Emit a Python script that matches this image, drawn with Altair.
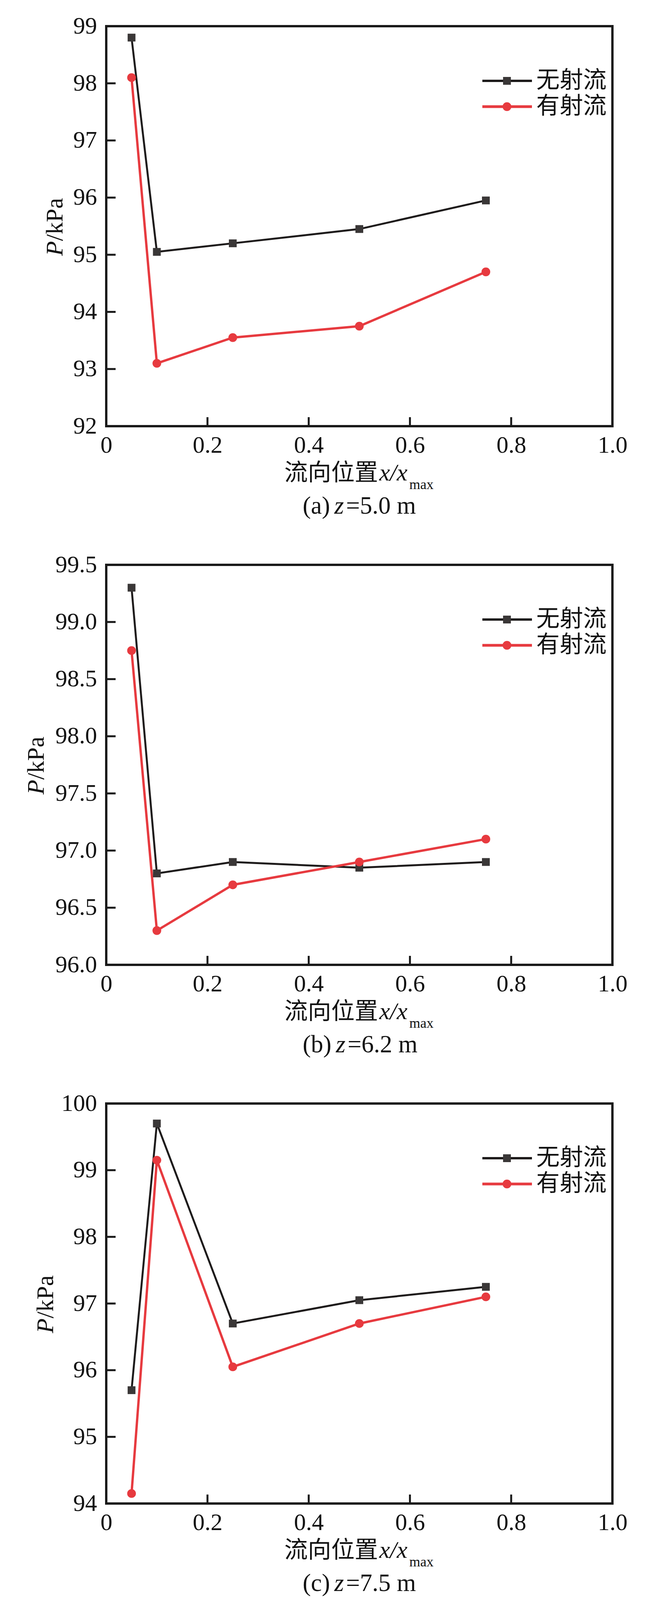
import altair as alt
import pandas as pd

# ---------------- data ----------------
X_POS = [0.05, 0.10, 0.25, 0.50, 0.75]
SERIES = ["无射流", "有射流"]

A_NO = [98.8, 95.05, 95.2, 95.45, 95.95]
A_JET = [98.1, 93.1, 93.55, 93.75, 94.7]
B_NO = [99.3, 96.8, 96.9, 96.85, 96.9]
B_JET = [98.75, 96.3, 96.7, 96.9, 97.1]
C_NO = [95.7, 99.7, 96.7, 97.05, 97.25]
C_JET = [94.15, 99.15, 96.05, 96.7, 97.1]

X_TICKS = [0, 0.2, 0.4, 0.6, 0.8, 1.0]
A_YTICKS = [92, 93, 94, 95, 96, 97, 98, 99]
B_YTICKS = [96.0, 96.5, 97.0, 97.5, 98.0, 98.5, 99.0, 99.5]
C_YTICKS = [94, 95, 96, 97, 98, 99, 100]

CAPTIONS = [("(a)", "=5.0 m"), ("(b)", "=6.2 m"), ("(c)", "=7.5 m")]
X_TITLE_CJK = "流向位置"
X_TITLE_VAR = "x/x"
X_TITLE_SUB = "max"
Y_TITLE_VAR = "P"
Y_TITLE_UNIT = "/kPa"

# ---------------- style ----------------
W, H = 1296, 1024
SPACING = 355
SERIF = "Liberation Serif"
CJK = "Noto Sans CJK SC"
FRAME = "#1a1a1a"
TEXT = "#111111"
BLACK_LINE = "#1e1b1b"
BLACK_MARK = "#3a3737"
RED = "#e73a3f"

one = pd.DataFrame({"k": [0]})


def txt(s, x, y, size, font=SERIF, style="normal", align="left",
        baseline="alphabetic", angle=0):
    return alt.Chart(one).mark_text(
        text=s, align=align, baseline=baseline, font=font, fontSize=size,
        fontStyle=style, color=TEXT, angle=angle
    ).encode(x=alt.value(x), y=alt.value(y))


def panel(no, jet, ydom, yticks, yfmt, cap, ytitle_x, z_x, eq_x, anchor=False):
    df = pd.DataFrame({
        "x": X_POS + X_POS,
        "P": no + jet,
        "series": [SERIES[0]] * len(X_POS) + [SERIES[1]] * len(X_POS),
    })
    base = alt.Chart(df)
    x_scale = alt.Scale(domain=[0, 1], nice=False, zero=False)
    y_scale = alt.Scale(domain=ydom, nice=False, zero=False)
    x_axis = alt.Axis(
        values=X_TICKS, title=None, grid=False, domain=False, ticks=False,
        labelExpr="datum.value == 0 ? '0' : format(datum.value, '.1f')",
        labelFont=SERIF, labelFontSize=61, labelColor=TEXT,
        labelPadding=67, labelBaseline="alphabetic", labelAlign="center",
        labelFlush=False, labelOverlap=False,
    )
    y_axis = alt.Axis(
        values=yticks, format=yfmt, title=None, grid=False, domain=False,
        ticks=False, labelFont=SERIF, labelFontSize=61,
        labelColor=TEXT, labelPadding=24, labelFlush=False,
        labelOverlap=False, labelBaseline="middle", labelAlign="right",
    )
    lines = base.mark_line().encode(
        x=alt.X("x:Q", scale=x_scale, axis=x_axis),
        y=alt.Y("P:Q", scale=y_scale, axis=y_axis),
        stroke=alt.Stroke("series:N",
                          scale=alt.Scale(domain=SERIES, range=[BLACK_LINE, RED]),
                          legend=None),
        strokeWidth=alt.StrokeWidth("series:N",
                                    scale=alt.Scale(domain=SERIES, range=[5, 6]),
                                    legend=None),
        order="x:Q",
    )
    points = base.mark_point(filled=True, opacity=1, strokeWidth=0).encode(
        x=alt.X("x:Q", scale=x_scale, axis=x_axis),
        y=alt.Y("P:Q", scale=y_scale, axis=y_axis),
        fill=alt.Fill("series:N",
                      scale=alt.Scale(domain=SERIES, range=[BLACK_MARK, RED]),
                      legend=None),
        shape=alt.Shape("series:N",
                        scale=alt.Scale(domain=SERIES, range=["square", "circle"]),
                        legend=None),
        size=alt.Size("series:N",
                      scale=alt.Scale(domain=SERIES, range=[400, 500]),
                      legend=None),
    )
    # inward ticks
    xt = alt.Chart(pd.DataFrame({"x": X_TICKS[1:-1]})).mark_rule(
        strokeWidth=5, color=FRAME
    ).encode(x=alt.X("x:Q", scale=x_scale, axis=x_axis),
             y=alt.value(H), y2=alt.value(H - 23))
    yt = alt.Chart(pd.DataFrame({"P": yticks[1:-1]})).mark_rule(
        strokeWidth=5, color=FRAME
    ).encode(y=alt.Y("P:Q", scale=y_scale, axis=y_axis),
             x=alt.value(0), x2=alt.value(24))

    layers = [lines, points, xt, yt]

    # legend (drawn by hand: line through marker)
    leg_cols = [(BLACK_LINE, BLACK_MARK, "square", 400, 6),
                (RED, RED, "circle", 500, 7)]
    for i, (name, (lc, mc, shp, sz, lw)) in enumerate(zip(SERIES, leg_cols)):
        ly = 140 + 66 * i
        layers.append(
            alt.Chart(one).mark_rule(strokeWidth=lw, color=lc).encode(
                x=alt.value(963), x2=alt.value(1090), y=alt.value(ly))
        )
        layers.append(
            alt.Chart(one).mark_point(filled=True, opacity=1, shape=shp,
                                      size=sz, color=mc, strokeWidth=0).encode(
                x=alt.value(1026), y=alt.value(ly))
        )
        layers.append(txt(name, 1101, ly, 60, font=CJK, baseline="middle"))

    # x title with subscript
    layers.append(txt(X_TITLE_CJK, 456, H + 139, 60, font=CJK))
    layers.append(txt(X_TITLE_VAR, 699, H + 139, 62, style="italic"))
    layers.append(txt(X_TITLE_SUB, 776, H + 161, 36))

    # y title, rotated
    layers.append(txt(Y_TITLE_VAR, ytitle_x, H // 2 + 76, 62, style="italic", angle=270))
    layers.append(txt(Y_TITLE_UNIT, ytitle_x, H // 2 + 38, 62, angle=270))

    # caption
    layers.append(txt(cap[0], 503, H + 224, 63))
    layers.append(txt("z", z_x, H + 224, 63, style="italic"))
    layers.append(txt(cap[1], eq_x, H + 224, 63))

    if anchor:
        layers.append(
            alt.Chart(one).mark_rule(strokeWidth=1, opacity=0, color="white").encode(
                x=alt.value(-261), x2=alt.value(-250), y=alt.value(-56))
        )

    return alt.layer(*layers).properties(width=W, height=H)


pa = panel(A_NO, A_JET, [92, 99], A_YTICKS, "d", CAPTIONS[0], -112, 584, 614, anchor=True)
pb = panel(B_NO, B_JET, [96, 99.5], B_YTICKS, ".1f", CAPTIONS[1], -160, 588, 618)
pc = panel(C_NO, C_JET, [94, 100], C_YTICKS, "d", CAPTIONS[2], -136, 584, 614)

chart = alt.vconcat(pa, pb, pc, spacing=SPACING, bounds="flush").properties(
    padding=0
).configure(background="white").configure_view(
    stroke=FRAME, strokeWidth=6, fill="white"
).configure_axis(labelFont=SERIF, labelColor=TEXT)

chart.save("out.html", embed_options={"renderer": "svg", "actions": False})
